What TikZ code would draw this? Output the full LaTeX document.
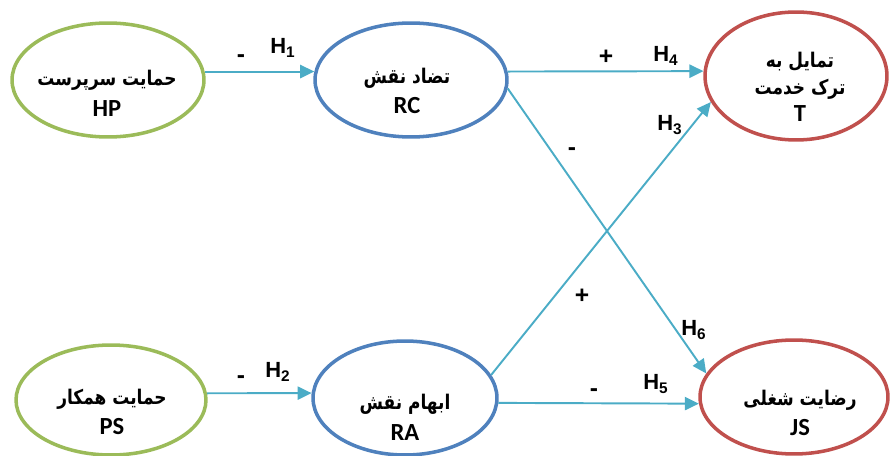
\documentclass[tikz,border=0pt]{standalone}
\usepackage{fontspec}
\setmainfont{Liberation Sans}
\newfontfamily\fa[Script=Arabic,FakeStretch=0.84]{DejaVu Sans}
\newfontfamily\lat{Carlito}
\TeXXeTstate=1
\usetikzlibrary{shapes.geometric,arrows.meta}
\definecolor{cgreen}{HTML}{9BBB59}
\definecolor{cblue}{HTML}{4F81BD}
\definecolor{cred}{HTML}{C0504D}
\definecolor{carrow}{HTML}{4BACC6}
\newcommand{\lt}[1]{{\lat\bfseries\fontsize{14}{17.5}\selectfont #1}}
\tikzset{
  el/.style={ellipse, draw=#1, line width=2pt, fill=white, inner sep=0pt},
  txt/.style={align=center, font=\fontsize{11.5}{17.5}\selectfont\bfseries},
  conn/.style={draw=carrow, line width=1.1pt, -{Triangle[length=8pt,width=7.5pt]}},
  lab/.style={font=\fontsize{12.5}{14}\selectfont\bfseries, inner sep=0pt},
  sgn/.style={font=\fontsize{14}{14}\selectfont\bfseries, inner sep=0pt},
}
\begin{document}
\begin{tikzpicture}[x=0.02cm,y=-0.02cm]
\useasboundingbox (0,0) rectangle (890,456);
% ellipses
\node[el=cgreen, minimum width=3.84cm, minimum height=2.28cm] (HP) at (108,80) {};
\node[el=cblue,  minimum width=3.84cm, minimum height=2.28cm] (RC) at (411,80) {};
\node[el=cred,   minimum width=3.64cm, minimum height=2.56cm] (T)  at (796,76) {};
\node[el=cgreen, minimum width=3.80cm, minimum height=2.20cm] (PS) at (111,400) {};
\node[el=cblue,  minimum width=3.68cm, minimum height=2.28cm] (RA) at (405,398) {};
\node[el=cred,   minimum width=3.76cm, minimum height=2.28cm] (JS) at (794,397) {};
% texts
\node[txt] (HPt) at (107,93) {{\fa\beginR حمایت سرپرست\endR}\\\lt{HP}};
\node[txt] (RCt) at (407,91) {{\fa\beginR تضاد نقش\endR}\\\lt{RC}};
\node[txt, font=\fontsize{11.5}{15.5}\selectfont\bfseries] (Tt) at (800,87) {{\fa\beginR تمایل به\endR}\\{\fa\beginR ترک خدمت\endR}\\\lt{T}};
\node[txt] (PSt) at (112,412) {{\fa\beginR حمایت همکار\endR}\\\lt{PS}};
\node[txt] (RAt) at (405,417) {{\fa\beginR ابهام نقش\endR}\\\lt{RA}};
\node[txt] (JSt) at (800,413) {{\fa\beginR رضایت شغلی\endR}\\\lt{JS}};
% connectors
\draw[conn] (HP.5) -- (RC.175);
\draw[conn] (PS.4) -- (RA.177);
\draw[conn] (RC.5) -- (T.177);
\draw[conn] (RA.15) -- (T.197);
\draw[conn] (RC.355) -- (JS.165);
\draw[conn] (RA.357) -- (JS.184);
% labels
\node[sgn] (s1) at (241,59) {-};
\node[lab] (h1) at (283,48) {H\textsubscript{1}};
\node[sgn] (s2) at (241,380) {-};
\node[lab] (h2) at (278,372) {H\textsubscript{2}};
\node[sgn] (s4) at (606,57) {+};
\node[lab] (h4) at (666,56) {H\textsubscript{4}};
\node[lab] (h3) at (670,125) {H\textsubscript{3}};
\node[sgn] (s3) at (582,296) {+};
\node[sgn] (s6) at (572,152) {-};
\node[lab] (h6) at (694,330) {H\textsubscript{6}};
\node[sgn] (s5) at (594,393) {-};
\node[lab] (h5) at (656,384) {H\textsubscript{5}};
\end{tikzpicture}
\end{document}
